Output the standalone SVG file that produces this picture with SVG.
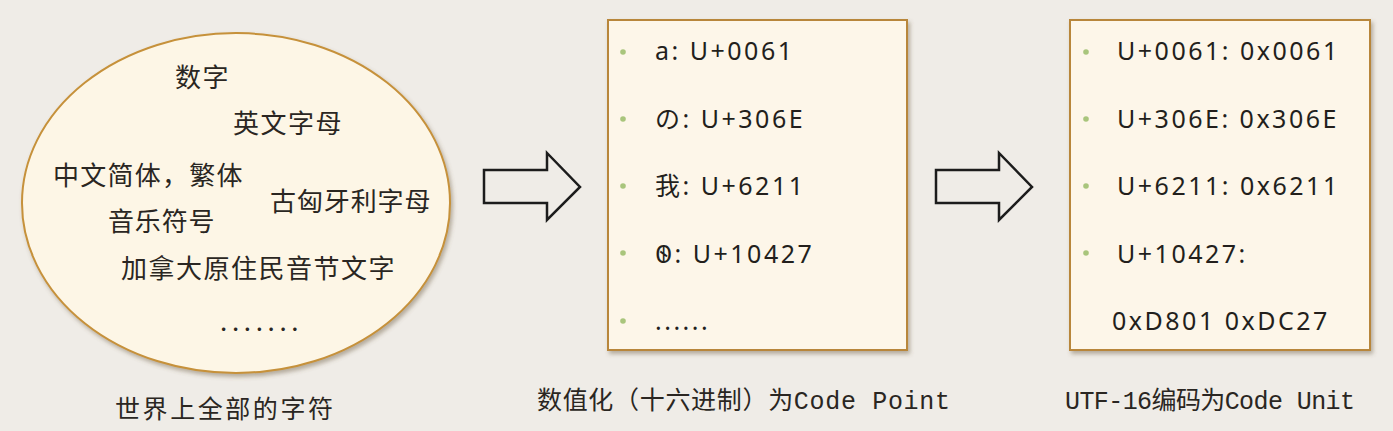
<svg xmlns="http://www.w3.org/2000/svg" width="1393" height="431" viewBox="0 0 1393 431">
<defs>
<filter id="sh" x="-10%" y="-10%" width="125%" height="125%">
<feDropShadow dx="2" dy="3" stdDeviation="2" flood-color="#6b5a40" flood-opacity="0.45"/>
</filter>
<style>
.cjk{font-family:"Noto Sans CJK SC","Noto Sans",sans-serif;font-size:26px;fill:#2a2622;letter-spacing:1.5px}
.li{font-family:"Noto Sans","DejaVu Sans","Noto Sans CJK JP",sans-serif;font-size:25px;fill:#231f1c;letter-spacing:2.5px}
.cap{font-family:"Liberation Mono","Noto Sans CJK SC",monospace;font-size:25px;fill:#2a2622}
.cap1{font-family:"Noto Sans CJK SC",sans-serif;font-size:25px;fill:#2a2622}
.bul{fill:#a9c57c}
.box{fill:#fdf6e9;stroke:#b8863a;stroke-width:2;filter:url(#sh)}
.arr{fill:none;stroke:#1c1c1c;stroke-width:2.5;stroke-linejoin:miter}
</style>
</defs>
<rect width="1393" height="431" fill="#efece7"/>

<g id="world">
<ellipse cx="236" cy="203" rx="214" ry="170" fill="#fdf6e6" stroke="#c6913a" stroke-width="2" filter="url(#sh)"/>
<text class="cjk" x="175" y="87">数字</text>
<text class="cjk" x="233" y="133">英文字母</text>
<text class="cjk" x="53" y="185" textLength="191">中文简体，繁体</text>
<text class="cjk" x="270" y="211" textLength="162">古匈牙利字母</text>
<text class="cjk" x="108" y="231" textLength="108">音乐符号</text>
<text class="cjk" x="121" y="278" textLength="275">加拿大原住民音节文字</text>
<text class="cjk" x="220" y="331" textLength="80">.......</text>
<text class="cap1" x="115" y="418" textLength="218">世界上全部的字符</text>
</g>

<g id="codepoints">
<rect class="box" x="608" y="20" width="299" height="330"/>
<circle class="bul" cx="623" cy="52" r="2.8"/>
<circle class="bul" cx="623" cy="119" r="2.8"/>
<circle class="bul" cx="623" cy="186" r="2.8"/>
<circle class="bul" cx="623" cy="253" r="2.8"/>
<circle class="bul" cx="623" cy="321" r="2.8"/>
<text class="li" x="655" y="60">a: U+0061</text>
<text class="li" x="655" y="128">の: U+306E</text>
<text class="li" x="655" y="195">我: U+6211</text>
<text class="li" x="655" y="263">𐐧: U+10427</text>
<text class="li" x="655" y="330" letter-spacing="1">......</text>
<text class="cap" x="537" y="409" textLength="413">数值化（十六进制）为Code Point</text>
</g>

<g id="codeunits">
<rect class="box" x="1070" y="20" width="300" height="330"/>
<circle class="bul" cx="1086" cy="52" r="2.8"/>
<circle class="bul" cx="1086" cy="119" r="2.8"/>
<circle class="bul" cx="1086" cy="186" r="2.8"/>
<circle class="bul" cx="1086" cy="253" r="2.8"/>
<text class="li" x="1117" y="60">U+0061: 0x0061</text>
<text class="li" x="1117" y="128">U+306E: 0x306E</text>
<text class="li" x="1117" y="195">U+6211: 0x6211</text>
<text class="li" x="1117" y="263">U+10427:</text>
<text class="li" x="1112" y="330">0xD801 0xDC27</text>
<text class="cap" x="1065" y="409" textLength="290">UTF-16编码为Code Unit</text>
</g>

<g id="connectors">
<path class="arr" d="M484,170 H547 V153 L580,187 L547,220 V203 H484 Z"/>
<path class="arr" d="M936,170 H999 V153 L1032,187 L999,220 V203 H936 Z"/>
</g>
</svg>
